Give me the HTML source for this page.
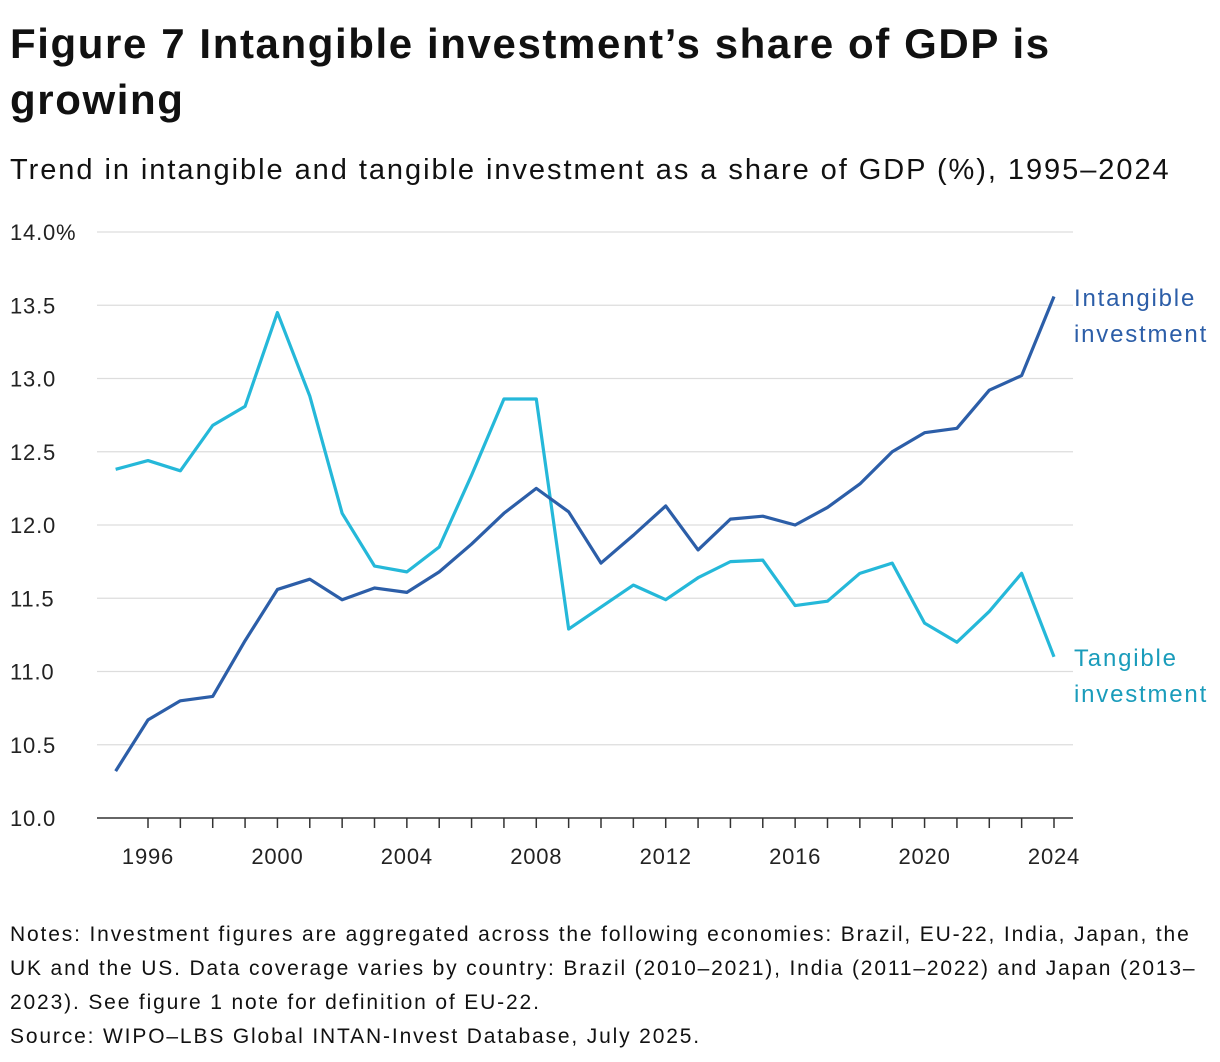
<!DOCTYPE html>
<html><head><meta charset="utf-8">
<style>
body{margin:0;background:#fff;font-family:"Liberation Sans",sans-serif;color:#111;}
#wrap{position:relative;width:1220px;height:1062px;overflow:hidden;}
h1{position:absolute;left:10px;top:16px;margin:0;font-size:42px;line-height:56px;font-weight:bold;width:1210px;letter-spacing:1.6px;white-space:nowrap;}
.sub{position:absolute;left:10px;top:154px;font-size:29px;letter-spacing:1.95px;white-space:nowrap;}
.notes{position:absolute;left:10px;top:918px;font-size:21px;line-height:34px;width:1210px;letter-spacing:1.85px;white-space:nowrap;}
svg{position:absolute;left:0;top:0;}
</style></head><body>
<div id="wrap">
<h1>Figure 7 Intangible investment’s share of GDP is<br>growing</h1>
<div class="sub">Trend in intangible and tangible investment as a share of GDP (%), 1995–2024</div>
<svg id="chart" width="1220" height="1062"></svg>
<div class="notes">Notes: Investment figures are aggregated across the following economies: Brazil, EU-22, India, Japan, the<br>UK and the US. Data coverage varies by country: Brazil (2010–2021), India (2011–2022) and Japan (2013–<br>2023). See figure 1 note for definition of EU-22.<br>Source: WIPO–LBS Global INTAN-Invest Database, July 2025.</div>
</div>
<script>
const years=[1995,1996,1997,1998,1999,2000,2001,2002,2003,2004,2005,2006,2007,2008,2009,2010,2011,2012,2013,2014,2015,2016,2017,2018,2019,2020,2021,2022,2023,2024];
const intangible=[10.32,10.67,10.80,10.83,11.21,11.56,11.63,11.49,11.57,11.54,11.68,11.87,12.08,12.25,12.09,11.74,11.93,12.13,11.83,12.04,12.06,12.00,12.12,12.28,12.50,12.63,12.66,12.92,13.02,13.56];
const tangible=[12.38,12.44,12.37,12.68,12.81,13.45,12.88,12.08,11.72,11.68,11.85,12.34,12.86,12.86,11.29,11.44,11.59,11.49,11.64,11.75,11.76,11.45,11.48,11.67,11.74,11.33,11.20,11.41,11.67,11.10];
const yTicks=[10,10.5,11,11.5,12,12.5,13,13.5,14];
const yTickLabels=["10.0","10.5","11.0","11.5","12.0","12.5","13.0","13.5","14.0%"];
const xTickLabels=[1996,2000,2004,2008,2012,2016,2020,2024];
const svg=document.getElementById('chart');const NS='http://www.w3.org/2000/svg';
const x=yr=>148+(yr-1996)*(1054-148)/28;
const y=v=>818-(v-10)*(818-232)/4;
function mk(t,a){const e=document.createElementNS(NS,t);for(const k in a)e.setAttribute(k,a[k]);svg.appendChild(e);return e;}
yTicks.forEach((v,i)=>{
 const g=mk('line',{x1:97,x2:1073,y1:y(v),y2:y(v),stroke:i==0?'#333':'#ddd','stroke-width':i==0?1.5:1.2});
 
 
 const t=mk('text',{x:10,y:y(v)+8,'font-size':22,fill:'#222','letter-spacing':'0.8','font-family':'Liberation Sans, sans-serif'});
 t.textContent=yTickLabels[i];
 
 
});
years.slice(1).forEach(yr=>{
 const l=mk('line',{x1:x(yr),x2:x(yr),y1:818,y2:828,stroke:'#333','stroke-width':1.5});
 
 
});
xTickLabels.forEach(yr=>{
 const t=mk('text',{x:x(yr),y:864,'font-size':22,fill:'#222','text-anchor':'middle','letter-spacing':'0.8','font-family':'Liberation Sans, sans-serif'});
 t.textContent=yr;
 
 
});
function series(vals,color,name){
 const p=mk('polyline',{points:vals.map((v,i)=>x(years[i])+','+y(v)).join(' '),fill:'none',stroke:color,'stroke-width':3.2,'stroke-linejoin':'round'});
 
 
}
series(tangible,'#25b8d9','tangible-line');
series(intangible,'#2c5ea8','intangible-line');
function label(lines,yy,color,name){
 const t=mk('text',{x:1074,y:yy,'font-size':24,fill:color,'letter-spacing':'1.8','font-family':'Liberation Sans, sans-serif'});
 
 
 lines.forEach((s,i)=>{const ts=document.createElementNS(NS,'tspan');ts.setAttribute('x',1074);ts.setAttribute('dy',i?36:0);ts.textContent=s;t.appendChild(ts);});
}
label(['Intangible','investment'],306,'#2c5ea8','intangible-label');
label(['Tangible','investment'],666,'#1a9cbb','tangible-label');
</script>
</body></html>
